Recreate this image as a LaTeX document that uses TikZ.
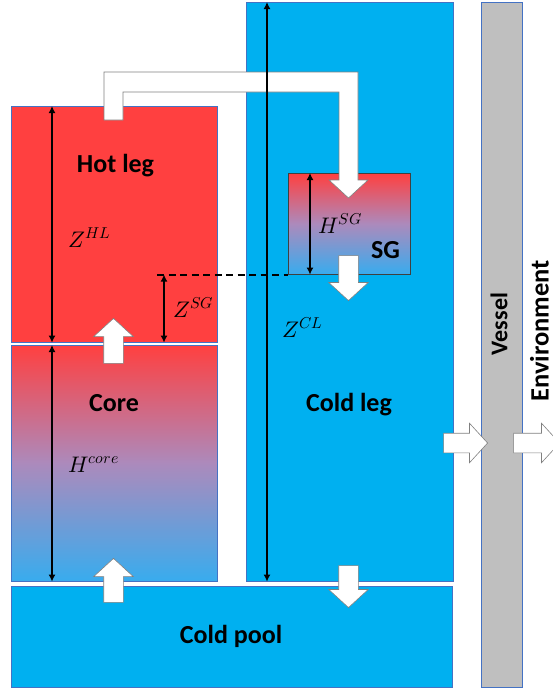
\documentclass[tikz,border=0pt]{standalone}
\usepackage{fontspec}
\usepackage{unicode-math}
\setmainfont{Carlito}
\usetikzlibrary{arrows.meta,shapes.arrows}
\definecolor{hotred}{RGB}{255,64,64}
\definecolor{coldblue}{RGB}{0,176,240}
\definecolor{mixblue}{RGB}{56,172,238}
\definecolor{mixpurple}{RGB}{172,138,188}
\definecolor{edgeblue}{RGB}{68,114,196}
\definecolor{wallgray}{RGB}{191,191,191}

\begin{document}
\begin{tikzpicture}[x=1pt,y=-1pt,
  region/.style={draw=edgeblue,line width=0.6pt,anchor=north west,inner sep=0pt},
  hot/.style={region,fill=hotred},
  cold/.style={region,fill=coldblue},
  mixed/.style={region,top color=hotred,bottom color=mixblue,middle color=mixpurple},
  pipe/.style={draw=black!50,fill=white,line width=0.6pt},
  flow/.style={single arrow,draw=black!50,fill=white,line width=0.6pt,
    inner xsep=0pt,inner ysep=9.5pt,single arrow head extend=10pt,
    single arrow tip angle=95,anchor=tip},
  dim/.style={draw=black,line width=1.8pt,{Latex[length=7pt,width=7pt]}-{Latex[length=7pt,width=7pt]}},
  level/.style={draw=black,line width=1.8pt,dash pattern=on 7pt off 4.5pt},
  partname/.style={font=\bfseries\fontsize{26}{30}\selectfont,anchor=base,inner sep=0pt},
  symbol/.style={font=\fontsize{22.5}{26}\selectfont,anchor=base west,inner sep=0pt}]
\useasboundingbox (0,0) rectangle (553,689);
% regions of the loop
\node[hot,minimum width=206pt,minimum height=236pt] (hotleg) at (11,106) {};
\node[mixed,minimum width=206pt,minimum height=236pt] (core) at (11,345) {};
\node[cold,minimum width=441pt,minimum height=101pt] (coldpool) at (11,586) {};
\node[cold,minimum width=207pt,minimum height=579pt] (coldleg) at (246,2) {};
\node[region,fill=wallgray,minimum width=41pt,minimum height=685pt] (vessel) at (481,2) {};
\node[mixed,draw=black!75,minimum width=122pt,minimum height=101pt] (sg) at (288,173) {};
% bent pipe from the hot leg into the SG
\draw[pipe] (104,120) -- (104,72) -- (358,72) -- (358,180) -- (368,180) -- (348.5,198)
  -- (329,180) -- (339,180) -- (339,92) -- (123,92) -- (123,120) -- cycle;
% flow and heat loss arrows
\node[flow,rotate=90,minimum height=45pt] (risehot) at (113.5,318) {};
\node[flow,rotate=90,minimum height=44pt] (risecore) at (113.5,558) {};
\node[flow,rotate=-90,minimum height=45pt] (dropsg) at (348.5,301) {};
\node[flow,rotate=-90,minimum height=42pt] (dropcold) at (348.5,608) {};
\node[flow,minimum height=44pt] (lossvessel) at (488,443) {};
\node[flow,minimum height=46pt] (lossenv) at (560,443) {};
% heights
\draw[dim] ([xshift=41pt]hotleg.north west) -- ([xshift=41pt]hotleg.south west);
\draw[dim] ([xshift=41pt]core.north west) -- ([xshift=41pt]core.south west);
\draw[dim] ([xshift=21pt]coldleg.north west) -- ([xshift=21pt]coldleg.south west);
\draw[dim] ([xshift=22pt]sg.north west) -- ([xshift=22pt]sg.south west);
\coordinate (zsg) at ([xshift=153pt]hotleg.south west);
\draw[dim] (zsg) -- (zsg |- sg.south);
\draw[level] ([xshift=-7pt]zsg |- sg.south) -- (sg.south west);
% labels
\node[partname] (hotname) at (115.5,172) {Hot leg};
\node[partname] (corename) at (114,411) {Core};
\node[partname] (sgname) at (385.5,258) {SG};
\node[partname] (coldlegname) at (349,411) {Cold leg};
\node[partname] (poolname) at (231,643) {Cold pool};
\node[partname,font=\bfseries\fontsize{24}{28}\selectfont,rotate=90,anchor=center]
  (vesselname) at (499,324) {Vessel};
\node[partname,font=\bfseries\fontsize{26.5}{31}\selectfont,rotate=90,anchor=center]
  (envname) at (539.5,331) {Environment};
\node[symbol] (zhl) at (68,247) {$Z^{HL}$};
\node[symbol] (zsgname) at (173,317) {$Z^{SG}$};
\node[symbol] (hsg) at (318,233) {$H^{SG}$};
\node[symbol] (zcl) at (282,337) {$Z^{CL}$};
\node[symbol] (hcore) at (68,472) {$H^{core}$};
\end{tikzpicture}
\end{document}
